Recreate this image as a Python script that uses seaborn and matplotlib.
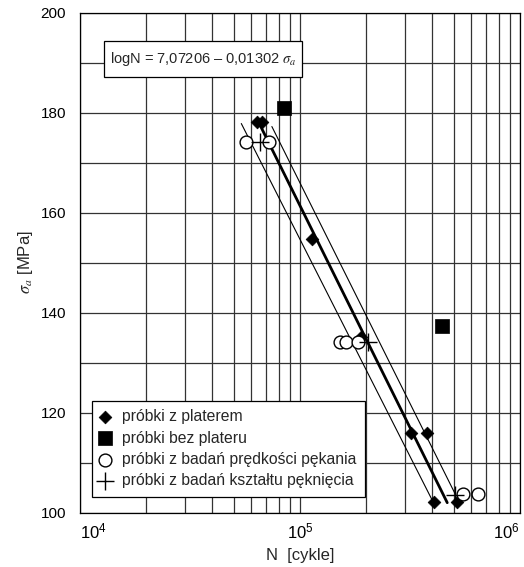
import numpy as np
import pandas as pd
import matplotlib
matplotlib.use("Agg")
import matplotlib.pyplot as plt
import seaborn as sns
from matplotlib.patches import Rectangle
from matplotlib.ticker import MultipleLocator, LogLocator, NullFormatter

# ─────────────────────────────────────────────
# Dane
# ─────────────────────────────────────────────
plater_N = [63500, 67400, 113600, 190000, 320000, 376000, 405000, 517000]
plater_s = [178.2, 178.2, 154.8, 135.2, 116.0, 116.0, 102.2, 102.2]

bez_N = [85000, 444000]
bez_s = [180.9, 137.3]

predk_N = [57000, 72500, 152000, 161000, 184000, 553000, 643000]
predk_s = [174.2, 174.2, 134.2, 134.2, 134.2, 103.7, 103.7]

kszt_N = [65800, 203000, 508000]
kszt_s = [174.2, 134.2, 103.5]

# linia regresji i pasma
mean_N = [65800, 467000]
mean_s = [177.5, 102.0]
low_N = [54100, 399000]
low_s = [177.8, 102.5]
up_N = [74500, 508000]
up_s = [177.2, 103.7]

x_ticks = [1e4, 1e5, 1e6]
x_ticklabels = [r"$\mathdefault{10^{4}}$", r"$\mathdefault{10^{5}}$", r"$\mathdefault{10^{6}}$"]

labels = ["próbki z platerem", "próbki bez plateru",
          "próbki z badań prędkości pękania", "próbki z badań kształtu pęknięcia"]

sns.set_style("white")
plt.rcParams["font.family"] = ["Liberation Sans", "DejaVu Sans"]
plt.rcParams["mathtext.fontset"] = "stix"

W, H = 524, 567
L, R, T, B = 80, 520, 12.5, 512.7
fig = plt.figure(figsize=(W / 100, H / 100), dpi=100)
ax = fig.add_axes([L / W, 1 - B / H, (R - L) / W, (B - T) / H])

# linie
lines = pd.DataFrame({
    "N": mean_N + low_N + up_N,
    "s": mean_s + low_s + up_s,
    "kind": ["mean"] * 2 + ["low"] * 2 + ["up"] * 2,
})
sns.lineplot(data=lines[lines.kind == "mean"], x="N", y="s", color="black",
             lw=2.0, ax=ax, legend=False, zorder=3)
for k in ["low", "up"]:
    sns.lineplot(data=lines[lines.kind == k], x="N", y="s", color="black",
                 lw=0.8, ax=ax, legend=False, zorder=3)

# punkty
sns.scatterplot(x=plater_N, y=plater_s, marker="D", s=42, color="black",
                edgecolor="black", linewidth=0.5, ax=ax, zorder=4, label=labels[0])
sns.scatterplot(x=bez_N, y=bez_s, marker="s", s=100, color="black",
                edgecolor="black", linewidth=0.5, ax=ax, zorder=4, label=labels[1])
sns.scatterplot(x=predk_N, y=predk_s, marker="o", s=85, facecolor="white",
                edgecolor="black", linewidth=1.0, ax=ax, zorder=4, label=labels[2])
sns.scatterplot(x=kszt_N, y=kszt_s, marker="+", s=150, color="black",
                linewidth=1.0, ax=ax, zorder=4, label=labels[3])

ax.set_xscale("log")
ax.set_xlim(1e4, 1e6)
ax.set_ylim(100, 200)
ax.set_xticks(x_ticks)
ax.set_xticklabels(x_ticklabels)
ax.xaxis.set_minor_locator(LogLocator(base=10, subs=np.arange(2, 10), numticks=20))
ax.xaxis.set_minor_formatter(NullFormatter())
ax.yaxis.set_major_locator(MultipleLocator(20))
ax.yaxis.set_minor_locator(MultipleLocator(10))
ax.grid(which="both", color="#333333", lw=0.9)
ax.set_axisbelow(True)
for sp in ax.spines.values():
    sp.set_color("black")
    sp.set_linewidth(0.9)
ax.tick_params(which="both", length=0, colors="black")
ax.tick_params(axis="x", labelsize=12, pad=6)
ax.tick_params(axis="y", labelsize=11, pad=10)

# etykiety 10^4 i 10^6 trzymane w obrębie rysunku
xt = ax.get_xticklabels()
xt[0].set_horizontalalignment("left")
xt[-1].set_horizontalalignment("right")

ax.set_xlabel("N  [cykle]", fontsize=12, labelpad=5)
ax.set_ylabel(r"$\sigma_a$ [MPa]", fontsize=12, labelpad=4)

# ramka z równaniem
bx0, bw = (104 - L) / (R - L), 198 / (R - L)
by0, bh = (B - 77) / (B - T), 36.5 / (B - T)
ax.add_patch(Rectangle((bx0, by0), bw, bh, transform=ax.transAxes,
                       facecolor="white", edgecolor="black", lw=0.9, zorder=6))
ax.text(bx0 + bw / 2, by0 + bh / 2, r"logN = 7,07206 – 0,01302 $\sigma_a$",
        transform=ax.transAxes, fontsize=10.5, va="center", ha="center", zorder=7)

leg = ax.legend(loc="lower left", bbox_to_anchor=(12 / (R - L), 16 / (B - T)),
                borderaxespad=0, fontsize=11.3, frameon=True, fancybox=False,
                framealpha=1, edgecolor="black", handletextpad=0.75,
                labelspacing=0.4, borderpad=0.55, handlelength=0.6)
leg.get_frame().set_linewidth(0.9)
leg.set_zorder(6)

fig.savefig("out.png", dpi=100)
